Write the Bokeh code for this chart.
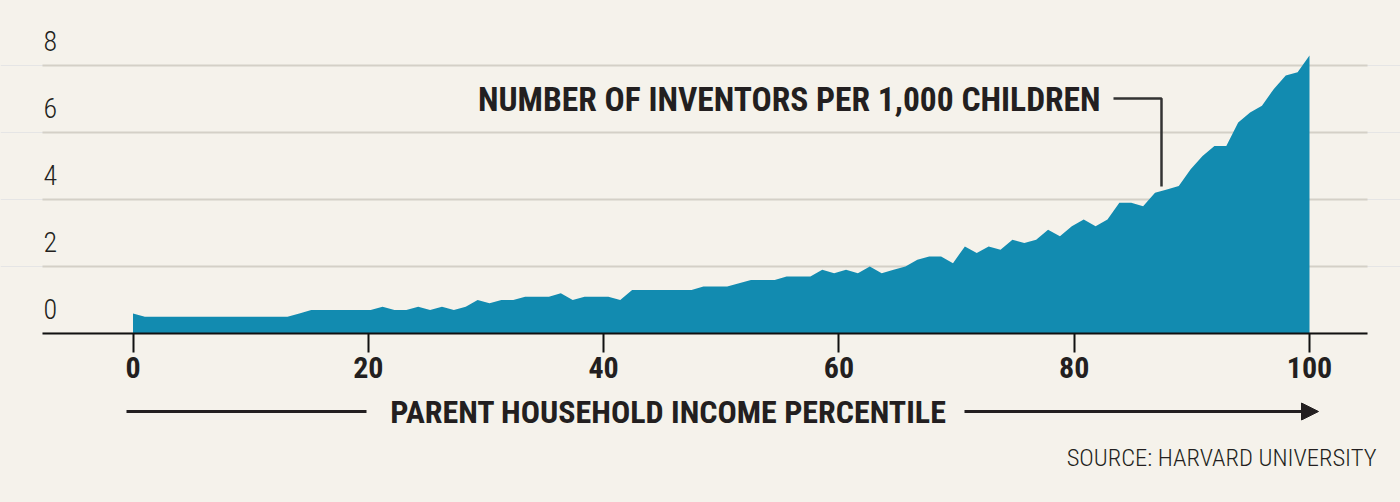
import numpy as np
from bokeh.plotting import figure
from bokeh.models import Range1d, FixedTicker, Arrow, NormalHead
from bokeh.layouts import column
from bokeh.core.properties import value
from bokeh.embed import file_html
from bokeh.resources import INLINE

# ---------------- data ----------------
inventors_per_1000 = [
    0.6, 0.5, 0.5, 0.5, 0.5, 0.5, 0.5, 0.5, 0.5, 0.5,
    0.5, 0.5, 0.5, 0.5, 0.6, 0.7, 0.7, 0.7, 0.7, 0.7,
    0.7, 0.8, 0.7, 0.7, 0.8, 0.7, 0.8, 0.7, 0.8, 1.0,
    0.9, 1.0, 1.0, 1.1, 1.1, 1.1, 1.2, 1.0, 1.1, 1.1,
    1.1, 1.0, 1.3, 1.3, 1.3, 1.3, 1.3, 1.3, 1.4, 1.4,
    1.4, 1.5, 1.6, 1.6, 1.6, 1.7, 1.7, 1.7, 1.9, 1.8,
    1.9, 1.8, 2.0, 1.8, 1.9, 2.0, 2.2, 2.3, 2.3, 2.1,
    2.6, 2.4, 2.6, 2.5, 2.8, 2.7, 2.8, 3.1, 2.9, 3.2,
    3.4, 3.2, 3.4, 3.9, 3.9, 3.8, 4.2, 4.3, 4.4, 4.9,
    5.3, 5.6, 5.6, 6.3, 6.6, 6.8, 7.3, 7.7, 7.8, 8.3,
]
percentile = np.linspace(0, 100, len(inventors_per_1000))

x_ticks = [0, 20, 40, 60, 80, 100]
x_tick_labels = ["0", "20", "40", "60", "80", "100"]
y_ticks = [0, 2, 4, 6, 8]
y_tick_labels = ["0", "2", "4", "6", "8"]

series_label = "NUMBER OF INVENTORS PER 1,000 CHILDREN"
x_title = "PARENT HOUSEHOLD INCOME PERCENTILE"
source_note = "SOURCE: HARVARD UNIVERSITY"

# ---------------- style ----------------
BG = "#f5f2eb"
AREA = "#128bb0"
TXT = "#231f20"
GRID = "#d4d0c7"
FONT_BOLD = "Roboto Condensed, Liberation Sans Narrow, DejaVu Sans Condensed, sans-serif"
FONT_LIGHT = "Roboto Condensed Light, Roboto Condensed, Liberation Sans Narrow, DejaVu Sans Condensed, sans-serif"

W = 1400
H1 = 392
H2 = 502 - H1
BOTTOM = 59
PX_X0, PX_PER_X = 132.5, 11.765      # pixel of percentile 0, pixels per percentile
PX_PER_Y = 33.5                       # pixels per inventor unit
x_start, x_end = -PX_X0 / PX_PER_X, (W - PX_X0) / PX_PER_X
x_lo, x_hi = (42 - PX_X0) / PX_PER_X, (1367 - PX_X0) / PX_PER_X
y_end = (H1 - BOTTOM) / PX_PER_Y
label_lift = 0.72

p = figure(width=W, height=H1, output_backend="svg", toolbar_location=None,
           x_range=Range1d(x_start, x_end), y_range=Range1d(0, y_end),
           y_axis_location=None,
           min_border_left=0, min_border_right=0,
           min_border_top=0, min_border_bottom=BOTTOM,
           background_fill_color=BG, border_fill_color=BG,
           outline_line_color=None)
p.xgrid.visible = False

# horizontal grid lines at the y ticks
p.segment(x0=[x_lo] * len(y_ticks), x1=[x_hi] * len(y_ticks),
          y0=y_ticks, y1=y_ticks, line_color=GRID, line_width=2)

p.varea(x=percentile, y1=0, y2=inventors_per_1000, fill_color=AREA)

xa = p.xaxis[0]
xa.bounds = (x_lo, x_hi)
xa.ticker = FixedTicker(ticks=x_ticks)
xa.major_label_overrides = dict(zip(x_ticks, x_tick_labels))
xa.axis_line_color = "#111111"
xa.axis_line_width = 2
xa.major_tick_line_color = "#111111"
xa.major_tick_line_width = 2
xa.major_tick_out = 19
xa.major_tick_in = 0
xa.minor_tick_line_color = None
xa.major_label_standoff = 4
xa.major_label_text_font = FONT_BOLD
xa.major_label_text_font_style = "bold"
xa.major_label_text_font_size = "30px"
xa.major_label_text_color = TXT

# y tick labels sit just above their grid lines
p.text(x=[x_lo + 0.085] * len(y_ticks), y=[t + label_lift for t in y_ticks],
       text=y_tick_labels, text_align="left", text_baseline="alphabetic",
       text_font=value(FONT_LIGHT), text_font_size="28px", text_color=TXT)

p.text(x=[82.24], y=[6.985], text=[series_label], text_align="right",
       text_baseline="alphabetic", text_font=value(FONT_BOLD),
       text_font_style="bold", text_font_size="33.5px", text_color=TXT)
p.line(x=[83.34, 87.42, 87.42], y=[7.015, 7.015, 4.39], line_width=2.5,
       line_color="#333333")

# ---------------- bottom strip ----------------
q = figure(width=W, height=H2, output_backend="svg", toolbar_location=None,
           x_range=Range1d(0, W), y_range=Range1d(H1 + H2, H1),
           x_axis_location=None, y_axis_location=None, min_border=0,
           background_fill_color=BG, border_fill_color=BG,
           outline_line_color=None)
q.grid.visible = False
q.segment(x0=[126], y0=[411], x1=[366], y1=[411], line_width=3, line_color=TXT)
q.add_layout(Arrow(x_start=964, y_start=411, x_end=1318, y_end=411,
                   line_width=3, line_color=TXT,
                   end=NormalHead(size=17, fill_color=TXT, line_color=TXT)))
q.text(x=[668], y=[411.5], text=[x_title], text_align="center",
       text_baseline="alphabetic", text_font=value(FONT_BOLD),
       text_font_style="bold", text_font_size="32px", text_color=TXT)
q.text(x=[1376], y=[456.5], text=[source_note], text_align="right",
       text_baseline="alphabetic", text_font=value(FONT_LIGHT),
       text_font_size="24.5px", text_color=TXT)

layout = column(p, q, spacing=0)
html = file_html(layout, INLINE)
html = html.replace("<head>", "<head><style>body{background:%s;}</style>" % BG, 1)
open("out.html", "w").write(html)
